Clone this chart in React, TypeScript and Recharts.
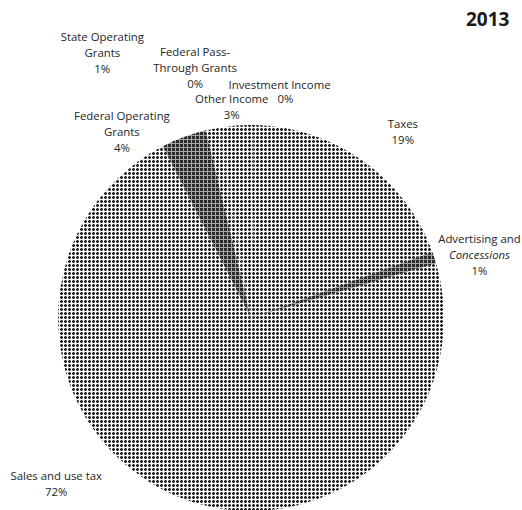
import React from 'react';
import { PieChart, Pie, Cell } from 'recharts';

const categories = [
  'Taxes',
  'Advertising and Concessions',
  'Sales and use tax',
  'Federal Operating Grants',
  'State Operating Grants',
  'Federal Pass-Through Grants',
  'Other Income',
  'Investment Income',
];
const shares = [19.0, 1.0, 72.0, 3.8, 1.0, 0.2, 2.8, 0.2];
const labelLines = [
  ['Taxes'],
  ['Advertising and', 'Concessions'],
  ['Sales and use tax'],
  ['Federal Operating', 'Grants'],
  ['State Operating', 'Grants'],
  ['Federal Pass-', 'Through Grants'],
  ['Other Income'],
  ['Investment Income'],
];
const title = '2013';

// layout (kept apart from the data): label offset from the polar anchor, fill pattern
const labelOffsets: [number, number][] = [
  [29, -25],
  [29, -14],
  [-112, -36],
  [-56, -6],
  [-106, -76],
  [-21, -60],
  [-4, -11],
  [24, -24],
];
const darkSlices = [false, true, false, true, false, false, false, false];

const data = categories.map((name, i) => ({ name, value: shares[i] }));
const total = shares.reduce((a, b) => a + b, 0);

const CX = 251;
const CY = 318;
const R = 193;
const RAD = Math.PI / 180;

const renderLabel = (props: any) => {
  const { cx, cy, midAngle, outerRadius, index, value } = props;
  const rr = outerRadius + 17;
  const ax = cx + rr * Math.cos(-midAngle * RAD);
  const ay = cy + rr * Math.sin(-midAngle * RAD);
  const [dx, dy] = labelOffsets[index];
  const x = ax + dx;
  const y = ay + dy;
  const lines = [...labelLines[index], Math.round((value / total) * 100) + '%'];
  const lh = index === 7 ? 14 : 16;
  return (
    <text
      key={'lbl' + index}
      x={x}
      y={y}
      textAnchor="middle"
      dominantBaseline="central"
      fontFamily="'Open Sans', sans-serif"
      fontSize={11.4}
      fill="#262626"
    >
      {lines.map((t, k) => (
        <tspan
          key={k}
          x={index === 7 && k === 1 ? x + 6 : x}
          y={y + k * lh}
          fontStyle={index === 1 && k === 1 ? 'italic' : 'normal'}
        >
          {t}
        </tspan>
      ))}
    </text>
  );
};

export default function App() {
  return (
    <div style={{ position: 'absolute', left: 0, top: 0, width: 522, height: 510, background: '#fff' }}>
      <PieChart width={522} height={510} margin={{ top: 0, right: 0, bottom: 0, left: 0 }}>
        <defs>
          <pattern id="lightDots" patternUnits="userSpaceOnUse" width="4" height="4">
            <rect x="0" y="0" width="4" height="4" fill="#ffffff" />
            <rect x="0" y="0" width="3" height="3" fill="#9a9a9a" />
            <rect x="1" y="0" width="1" height="3" fill="#1e1e1e" />
            <rect x="0" y="1" width="3" height="1" fill="#1e1e1e" />
          </pattern>
          <pattern id="darkDots" patternUnits="userSpaceOnUse" width="4" height="4">
            <rect x="0" y="0" width="4" height="4" fill="#a8a8a8" />
            <rect x="0" y="0" width="3" height="3" fill="#2a2a2a" />
          </pattern>
        </defs>
        <Pie
          data={data}
          dataKey="value"
          nameKey="name"
          cx={CX}
          cy={CY}
          outerRadius={R}
          startAngle={88.4}
          endAngle={-271.6}
          stroke="none"
          labelLine={false}
          label={renderLabel}
          isAnimationActive={false}
        >
          {data.map((d, i) => (
            <Cell key={d.name} fill={darkSlices[i] ? 'url(#darkDots)' : 'url(#lightDots)'} />
          ))}
        </Pie>
      </PieChart>
      <div
        style={{
          position: 'absolute',
          left: 466,
          top: 7,
          fontFamily: "'Open Sans', sans-serif",
          fontWeight: 700,
          fontSize: 19,
          color: '#1a1a1a',
          lineHeight: '24px',
        }}
      >
        {title}
      </div>
    </div>
  );
}
